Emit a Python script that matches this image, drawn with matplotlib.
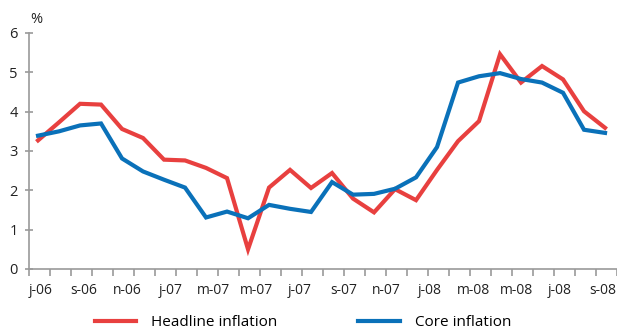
import matplotlib.pyplot as plt
import numpy as np

plt.rcParams["font.family"] = ["Open Sans", "DejaVu Sans"]

red_color = "#E8403F"
blue_color = "#0A71B9"
axis_color = "#9A9A9A"

# monthly values, Jul 2006 - Oct 2008 (%)
headline = [3.27, 3.73, 4.20, 4.18, 3.56, 3.33, 2.78, 2.76, 2.57, 2.31,
            0.50, 2.07, 2.52, 2.06, 2.44, 1.79, 1.44, 2.03, 1.75, 2.52,
            3.25, 3.76, 5.46, 4.74, 5.16, 4.82, 4.01, 3.59]
core = [3.39, 3.50, 3.65, 3.70, 2.81, 2.48, 2.27, 2.07, 1.31, 1.46,
        1.29, 1.63, 1.53, 1.45, 2.21, 1.89, 1.91, 2.04, 2.33, 3.10,
        4.74, 4.90, 4.98, 4.83, 4.74, 4.48, 3.54, 3.46]
tick_labels = ["j-06", "s-06", "n-06", "j-07", "m-07", "m-07", "j-07",
               "s-07", "n-07", "j-08", "m-08", "m-08", "j-08", "s-08"]

n = len(headline)
x = np.arange(n) + 0.43

fig = plt.figure(figsize=(6.17, 3.31), dpi=100)
ax = fig.add_axes([29 / 617, 1 - 269 / 331, 588 / 617, 236 / 331])

ax.plot(x, headline, color=red_color, lw=3.0, label="Headline inflation",
        solid_joinstyle="miter", clip_on=False)
ax.plot(x, core, color=blue_color, lw=3.0, label="Core inflation",
        solid_joinstyle="miter", clip_on=False)

ax.set_xlim(0, n)
ax.set_ylim(0, 6)

for side in ["top", "right"]:
    ax.spines[side].set_visible(False)
for side in ["left", "bottom"]:
    ax.spines[side].set_color(axis_color)
    ax.spines[side].set_linewidth(1.2)

# month ticks without labels, labels every two months on minor ticks
ax.set_xticks(np.arange(n + 1))
ax.set_xticklabels([])
ax.set_xticks(0.55 + 2.06 * np.arange(len(tick_labels)), minor=True)
ax.set_xticklabels(tick_labels, minor=True, fontsize=10, color="#222222")
ax.tick_params(axis="x", which="major", direction="out", length=5,
               width=1.2, color=axis_color)
ax.tick_params(axis="x", which="minor", length=0, pad=10)

ax.set_yticks(range(7))
ax.tick_params(axis="y", direction="inout", length=6, width=1.2,
               color=axis_color, labelsize=10.5, labelcolor="#222222", pad=5)

ax.text(0.05, 6.15, "%", fontsize=10.5, color="#222222", ha="left",
        va="bottom")

fig.legend(loc="center", bbox_to_anchor=(303 / 617, 1 - 323 / 331), ncol=2,
           frameon=False, fontsize=11, handlelength=2.7, handletextpad=1.0,
           columnspacing=5.3, borderaxespad=0)

plt.savefig("out.png", dpi=100)
